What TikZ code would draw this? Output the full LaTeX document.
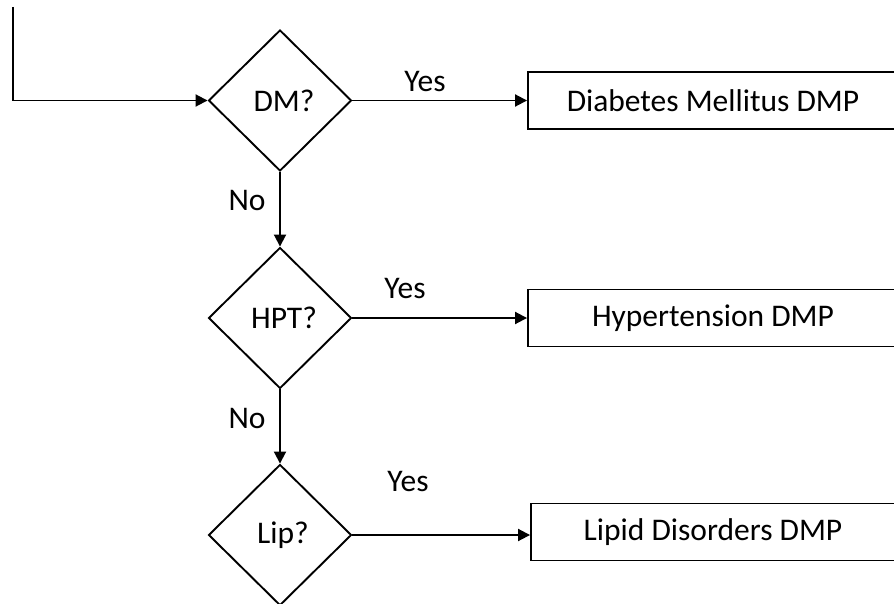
\documentclass[tikz,border=0pt]{standalone}
\usepackage{fontspec}
\setmainfont{Carlito}
\usetikzlibrary{shapes.geometric,arrows.meta}
\begin{document}
\begin{tikzpicture}[x=1pt,y=-1pt,
  every node/.style={font=\fontsize{31.5}{38}\selectfont},
  dec/.style={draw, line width=1.9pt, shape=diamond, inner sep=0pt, minimum width=143pt, minimum height=141pt, aspect=1},
  outbox/.style={draw, line width=1.9pt, rectangle, inner sep=0pt, minimum height=57pt},
  lbl/.style={inner sep=0pt},
  conn/.style={line width=1.9pt, -{Triangle[length=12pt,width=12pt]}}
]
\useasboundingbox (0,0) rectangle (894,604);
\clip (0,0) rectangle (894,604);
\coordinate (start) at (13,7);
\node[dec] (dm) at (280,100.5) {\hspace*{8pt}DM?};
\node[dec] (hpt) at (280,318) {\hspace*{8pt}HPT?};
\node[dec] (lip) at (280,535) {\hspace*{6pt}Lip?};
\node[outbox, minimum width=370pt] (dmbox) at (713,100.5) {Diabetes Mellitus DMP};
\node[outbox, minimum width=370pt] (hptbox) at (713,318) {Hypertension DMP};
\node[outbox, minimum width=364pt] (lipbox) at (713,532) {Lipid Disorders DMP};
\draw[conn] (start) |- (dm.west);
\draw[conn] (dm.east) -- (dmbox.west);
\draw[conn] (hpt.east) -- (hptbox.west);
\draw[conn] (lip.east) -- (lip.east -| lipbox.west);
\draw[conn] (dm.south) -- (hpt.north);
\draw[conn] (hpt.south) -- (lip.north);
\node[lbl] (y1) at (425,82) {Yes};
\node[lbl] (y2) at (405,289) {Yes};
\node[lbl] (y3) at (408,482) {Yes};
\node[lbl] (n1) at (247,201) {No};
\node[lbl] (n2) at (247,418) {No};
\end{tikzpicture}
\end{document}
